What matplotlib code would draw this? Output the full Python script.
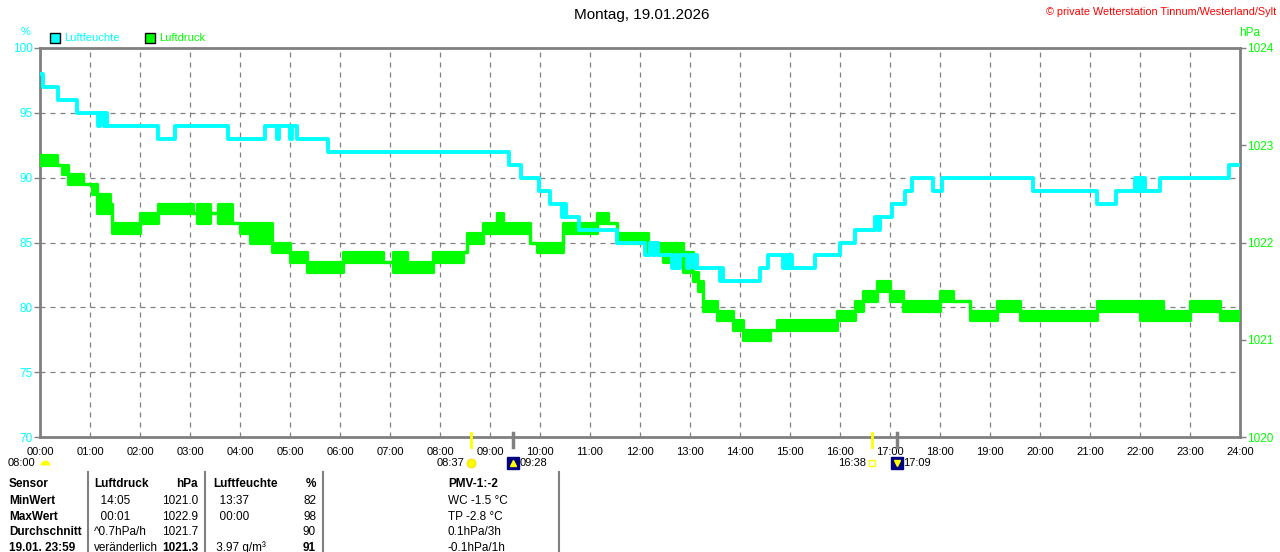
import matplotlib.pyplot as plt
import matplotlib.transforms as mtransforms
from matplotlib.patches import Rectangle
from matplotlib.lines import Line2D

plt.rcParams['font.family'] = ['Liberation Sans', 'DejaVu Sans']

W, H = 1280, 552
CYAN = "#00ffff"
GREEN = "#00ff00"
GRAY = "#808080"

# humidity (%), step changes: start hour, value
hum_t = [0.00, 0.06, 0.36, 0.74, 1.16, 1.20, 1.28, 1.31, 1.34, 2.36, 2.70, 3.76,
         4.50, 4.74, 4.78, 5.00, 5.04, 5.14, 5.76, 9.38, 9.62, 9.98, 10.20, 10.44,
         10.48, 10.52, 10.78, 11.54, 12.10, 12.20, 12.26, 12.30, 12.36, 12.64, 12.70,
         12.74, 12.80, 12.94, 13.00, 13.08, 13.12, 13.14, 13.60, 13.64, 13.66, 14.40,
         14.56, 14.86, 14.92, 14.96, 15.00, 15.04, 15.50, 16.00, 16.30, 16.70, 16.76,
         16.80, 17.04, 17.30, 17.44, 17.86, 18.04, 19.86, 21.14, 21.52, 21.90, 21.94,
         21.98, 22.02, 22.06, 22.10, 22.40, 23.78]
hum_v = [98, 97, 96, 95, 94, 95, 94, 95, 94, 93, 94, 93,
         94, 93, 94, 93, 94, 93, 92, 91, 90, 89, 88, 87,
         88, 87, 86, 85, 84, 85, 84, 85, 84, 83, 84,
         83, 84, 83, 84, 83, 84, 83, 82, 83, 82, 83,
         84, 83, 84, 83, 84, 83, 84, 85, 86, 87, 86,
         87, 88, 89, 90, 89, 90, 89, 88, 89, 90, 89,
         90, 89, 90, 89, 90, 91]

# air pressure (hPa): start hour, lower and upper level of the flicker band
p_t = [0.00, 0.34, 0.44, 0.56, 0.86, 1.04, 1.14, 1.40, 1.44, 2.00, 2.36, 3.06, 3.14,
       3.40, 3.56, 3.84, 4.00, 4.20, 4.64, 5.00, 5.34, 6.06, 6.86, 7.06, 7.34, 7.86,
       8.46, 8.54, 8.86, 9.14, 9.26, 9.80, 9.94, 10.46, 11.14, 11.36, 11.54, 12.16,
       12.46, 12.86, 13.06, 13.16, 13.26, 13.54, 13.86, 14.06, 14.60, 14.74, 15.94,
       16.30, 16.46, 16.74, 17.00, 17.26, 18.00, 18.26, 18.60, 19.14, 19.60, 21.14,
       22.00, 22.46, 23.00, 23.60]
p_lo = [1022.8, 1022.8, 1022.7, 1022.6, 1022.6, 1022.5, 1022.3, 1022.4, 1022.1, 1022.2,
        1022.3, 1022.3, 1022.2, 1022.3, 1022.2, 1022.2, 1022.1, 1022.0, 1021.9, 1021.8,
        1021.7, 1021.8, 1021.8, 1021.7, 1021.7, 1021.8, 1021.9, 1022.0, 1022.1, 1022.1,
        1022.1, 1022.0, 1021.9, 1022.1, 1022.2, 1022.2, 1022.0, 1021.9, 1021.8, 1021.7,
        1021.6, 1021.5, 1021.3, 1021.2, 1021.1, 1021.0, 1021.1, 1021.1, 1021.2, 1021.3,
        1021.4, 1021.5, 1021.4, 1021.3, 1021.4, 1021.4, 1021.2, 1021.3, 1021.2, 1021.3,
        1021.2, 1021.2, 1021.3, 1021.2]
p_hi = [1022.9, 1022.8, 1022.8, 1022.7, 1022.6, 1022.6, 1022.5, 1022.4, 1022.2, 1022.3,
        1022.4, 1022.3, 1022.4, 1022.3, 1022.4, 1022.2, 1022.2, 1022.2, 1022.0, 1021.9,
        1021.8, 1021.9, 1021.8, 1021.9, 1021.8, 1021.9, 1021.9, 1022.1, 1022.2, 1022.3,
        1022.2, 1022.0, 1022.0, 1022.2, 1022.3, 1022.2, 1022.1, 1022.0, 1022.0, 1021.9,
        1021.7, 1021.6, 1021.4, 1021.3, 1021.2, 1021.1, 1021.1, 1021.2, 1021.3, 1021.4,
        1021.5, 1021.6, 1021.5, 1021.4, 1021.5, 1021.4, 1021.3, 1021.4, 1021.3, 1021.4,
        1021.4, 1021.3, 1021.4, 1021.3]

hours = list(range(25))
hour_labels = [f"{h:02d}:00" for h in hours]
hum_ticks = [70, 75, 80, 85, 90, 95, 100]
p_ticks = [1020, 1021, 1022, 1023, 1024]

event_times = [8 + 37/60, 9 + 28/60, 16 + 38/60, 17 + 9/60]
event_labels = ["08:37", "09:28", "16:38", "17:09"]
event_kinds = ["sunrise", "moonrise", "sunset", "moonset"]

table_left = [
    ("Sensor", "Luftdruck", "hPa", "Luftfeuchte", "%"),
    ("MinWert", "  14:05", "1021.0", "  13:37", "82"),
    ("MaxWert", "  00:01", "1022.9", "  00:00", "98"),
    ("Durchschnitt", "^0.7hPa/h", "1021.7", "", "90"),
    ("19.01. 23:59", "veränderlich", "1021.3", " 3.97 g/m³", "91"),
]
table_mid = ["PMV-1:-2", "WC -1.5 °C", "TP -2.8 °C", "0.1hPa/3h", "-0.1hPa/1h"]


def fx(px):
    return px / W


def fy(py):
    return 1 - py / H


fig = plt.figure(figsize=(W / 100, H / 100), dpi=100)
ax_h = fig.add_axes([fx(40), fy(437), 1200 / W, 389 / H])
ax_p = ax_h.twinx()

ax_h.set_xlim(0, 24)
ax_h.set_ylim(70, 100)
ax_p.set_ylim(1020, 1024)

ax_h.set_xticks(hours)
ax_h.set_xticklabels(hour_labels)
ax_h.set_yticks(hum_ticks)
ax_p.set_yticks(p_ticks)
ax_h.yaxis.tick_left()
ax_p.yaxis.tick_right()
ax_h.grid(True, color=GRAY, linestyle=(0, (4, 4)), linewidth=0.9)
ax_h.set_axisbelow(True)

ax_h.tick_params(axis='x', length=0, pad=7, labelsize=8, labelcolor='black')
ax_h.tick_params(axis='y', length=4, width=1, color=GRAY, pad=1,
                 labelsize=8.5, labelcolor=CYAN)
ax_p.tick_params(axis='y', length=4, width=1, color=GRAY, pad=1,
                 labelsize=8.5, labelcolor=GREEN)
for s in ax_h.spines.values():
    s.set_color(GRAY)
    s.set_linewidth(2)
for s in ax_p.spines.values():
    s.set_visible(False)

# pressure: flickering band between two 0.1 hPa levels
pt = p_t + [24]
plo = p_lo + [p_lo[-1]]
phi = p_hi + [p_hi[-1]]
ax_p.fill_between(pt, plo, phi, step='post', color=GREEN, linewidth=0, zorder=3)
ax_p.plot(pt, plo, drawstyle='steps-post', color=GREEN, lw=2.3, zorder=3)
ax_p.plot(pt, phi, drawstyle='steps-post', color=GREEN, lw=2.3, zorder=3)

# humidity on top, using the humidity scale
ax_p.plot(hum_t + [24], hum_v + [hum_v[-1]], drawstyle='steps-post', color=CYAN,
          lw=2.8, zorder=5, transform=ax_h.transData)
ax_p.set_ylim(1020, 1024)

# sun / moon events below the axis
xtr = ax_h.get_xaxis_transform()
btr = mtransforms.blended_transform_factory(ax_h.transData, fig.transFigure)
yic = fy(463)
for t, lab, kind in zip(event_times, event_labels, event_kinds):
    is_sun = kind.startswith("sun")
    ax_h.plot([t, t], [0.010, -0.026], transform=xtr, clip_on=False,
              color="#ffff00" if is_sun else GRAY, lw=2 if is_sun else 2.5, zorder=6)
    if kind == "sunrise":
        ax_h.plot([t], [yic], transform=btr, clip_on=False, marker='o', ms=6,
                  color="#ffff00", mec="#ffe000")
        ax_h.text(t - 0.12, yic, lab, transform=btr, ha='right', va='center', fontsize=8)
    elif kind == "sunset":
        ax_h.plot([t], [yic], transform=btr, clip_on=False, marker='s', ms=4,
                  mfc='white', mec="#ffff00", mew=1)
        ax_h.text(t - 0.12, yic, lab, transform=btr, ha='right', va='center', fontsize=8)
    else:
        ax_h.plot([t], [yic], transform=btr, clip_on=False, marker='s', ms=8,
                  color="#000080")
        ax_h.plot([t], [yic], transform=btr, clip_on=False,
                  marker='^' if kind == "moonrise" else 'v', ms=4, color="#ffff00")
        ax_h.text(t + 0.12, yic, lab, transform=btr, ha='left', va='center', fontsize=8)

fig.text(fx(8), yic, "08:00", ha='left', va='center', fontsize=8)
ax_h.plot([0.09], [fy(465)], transform=btr, clip_on=False, marker='o', ms=7,
          fillstyle='top', color="#ffff00", mec='none')

# title and header texts
fig.text(fx(642), fy(15), "Montag, 19.01.2026", ha='center', va='center', fontsize=11)
fig.text(fx(1276), fy(12), "© private Wetterstation Tinnum/Westerland/Sylt",
         ha='right', va='center', fontsize=7.8, color='red')
fig.text(fx(26), fy(32), "%", ha='center', va='center', fontsize=8, color=CYAN)
fig.text(fx(1250), fy(33), "hPa", ha='center', va='center', fontsize=8.5, color=GREEN)

for x0, col, name in [(50, CYAN, "Luftfeuchte"), (145, GREEN, "Luftdruck")]:
    fig.patches.append(Rectangle((fx(x0), fy(43)), 10 / W, 10 / H, transform=fig.transFigure,
                                 facecolor=col, edgecolor='black', lw=1))
    fig.text(fx(x0 + 14), fy(38), name, ha='left', va='center', fontsize=8, color=col)

# bottom table
for xs in [88, 205, 323, 559]:
    fig.lines.append(Line2D([fx(xs), fx(xs)], [fy(472), fy(552)], transform=fig.transFigure,
                            color=GRAY, lw=1.5))
row_y = [484, 501, 517, 532, 548]
for i, (yy, row) in enumerate(zip(row_y, table_left)):
    hdr = i == 0
    last = i == len(table_left) - 1
    fig.text(fx(9), fy(yy), row[0], ha='left', va='center', fontsize=8.5, weight='bold')
    fig.text(fx(94), fy(yy), row[1], ha='left', va='center', fontsize=8.5,
             weight='bold' if hdr else 'normal')
    fig.text(fx(198), fy(yy), row[2], ha='right', va='center', fontsize=8.5,
             weight='bold' if (hdr or last) else 'normal')
    fig.text(fx(213), fy(yy), row[3], ha='left', va='center', fontsize=8.5,
             weight='bold' if hdr else 'normal')
    fig.text(fx(316), fy(yy), row[4], ha='right', va='center', fontsize=8.5,
             weight='bold' if (hdr or last) else 'normal')
    fig.text(fx(448), fy(yy), table_mid[i], ha='left', va='center', fontsize=8.5,
             weight='bold' if hdr else 'normal')

fig.savefig("out.png", dpi=100, facecolor='white')
